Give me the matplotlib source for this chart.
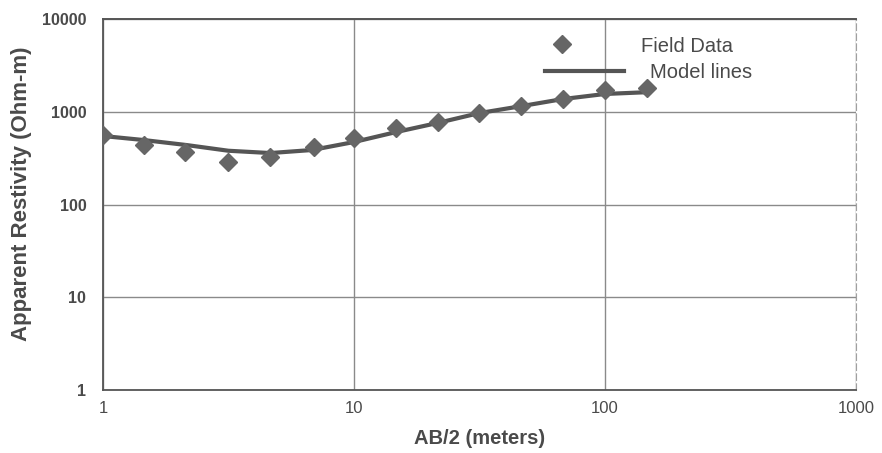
import matplotlib
matplotlib.use("Agg")
import matplotlib.pyplot as plt
from matplotlib.ticker import FixedLocator, FixedFormatter, NullLocator

plt.rcParams['font.family'] = ['Liberation Sans', 'DejaVu Sans']

# field measurements (AB/2 in m, apparent resistivity in Ohm-m)
field_ab2 = [1.0, 1.45, 2.12, 3.16, 4.64, 6.9, 10.0, 14.7, 21.6, 31.6, 46.4, 68.0, 100.0, 147.0]
field_rho = [560, 440, 365, 290, 325, 415, 520, 665, 775, 970, 1150, 1380, 1700, 1800]

# fitted model curve
model_ab2 = [1.0, 1.45, 2.15, 3.16, 4.64, 6.8, 10.0, 14.7, 21.5, 31.6, 46.4, 68.0, 100.0, 150.0]
model_rho = [548, 496, 438, 380, 359, 387, 472, 604, 757, 969, 1150, 1372, 1556, 1630]

x_ticks = [1, 10, 100, 1000]
x_labels = ["1", "10", "100", "1000"]
y_ticks = [1, 10, 100, 1000, 10000]
y_labels = ["1", "10", "100", "1000", "10000"]

txt = '#4a4a4a'
fig = plt.figure(figsize=(8.82, 4.53), dpi=100)
ax = fig.add_axes([0.1168, 0.139, 0.9705 - 0.1168, 0.958 - 0.139])

mline, = ax.plot(model_ab2, model_rho, color='#555555', lw=3.0, zorder=3)
mpts, = ax.plot(field_ab2, field_rho, ls='none', marker='D', ms=9, color='#666666', zorder=4)

ax.set_xscale('log')
ax.set_yscale('log')
ax.set_xlim(1, 1000)
ax.set_ylim(1, 10000)

ax.xaxis.set_major_locator(FixedLocator(x_ticks))
ax.xaxis.set_major_formatter(FixedFormatter(x_labels))
ax.yaxis.set_major_locator(FixedLocator(y_ticks))
ax.yaxis.set_major_formatter(FixedFormatter(y_labels))
ax.xaxis.set_minor_locator(NullLocator())
ax.yaxis.set_minor_locator(NullLocator())
ax.tick_params(axis='x', length=0, pad=8, labelsize=12, labelcolor=txt)
ax.tick_params(axis='y', length=0, pad=12, labelsize=11.5, labelcolor=txt)
for lab in ax.get_yticklabels():
    lab.set_fontweight('bold')

ax.grid(True, which='major', color='#8a8a8a', lw=1.0)
ax.spines['right'].set_color('#a0a0a0')
ax.spines['right'].set_linestyle((0, (6, 3)))
ax.spines['right'].set_linewidth(0.8)
ax.spines['top'].set_color('#555555')
ax.spines['top'].set_linewidth(1.4)
for s in ['left', 'bottom']:
    ax.spines[s].set_color('#555555')
    ax.spines[s].set_linewidth(1.3)

ax.set_xlabel('AB/2 (meters)', fontsize=14.5, fontweight='bold', color=txt, labelpad=9)
ax.set_ylabel('Apparent Restivity (Ohm-m)', fontsize=16, fontweight='bold', color=txt)
ax.yaxis.set_label_coords(-0.094, 0.528)

# two separate legend rows, as in the original sheet
leg1 = fig.legend([mpts], ['Field Data'], loc='center left',
                  bbox_to_anchor=(524 / 882, 1 - 46 / 453), frameon=False,
                  fontsize=14.5, handlelength=3.8, handletextpad=2.0,
                  borderpad=0, borderaxespad=0, labelcolor=txt)
leg2 = fig.legend([mline], ['Model lines'], loc='center left',
                  bbox_to_anchor=(545 / 882, 1 - 73 / 453), frameon=False,
                  fontsize=14.5, handlelength=3.9, handletextpad=1.3,
                  borderpad=0, borderaxespad=0, labelcolor=txt)

fig.savefig('out.png', dpi=100)
